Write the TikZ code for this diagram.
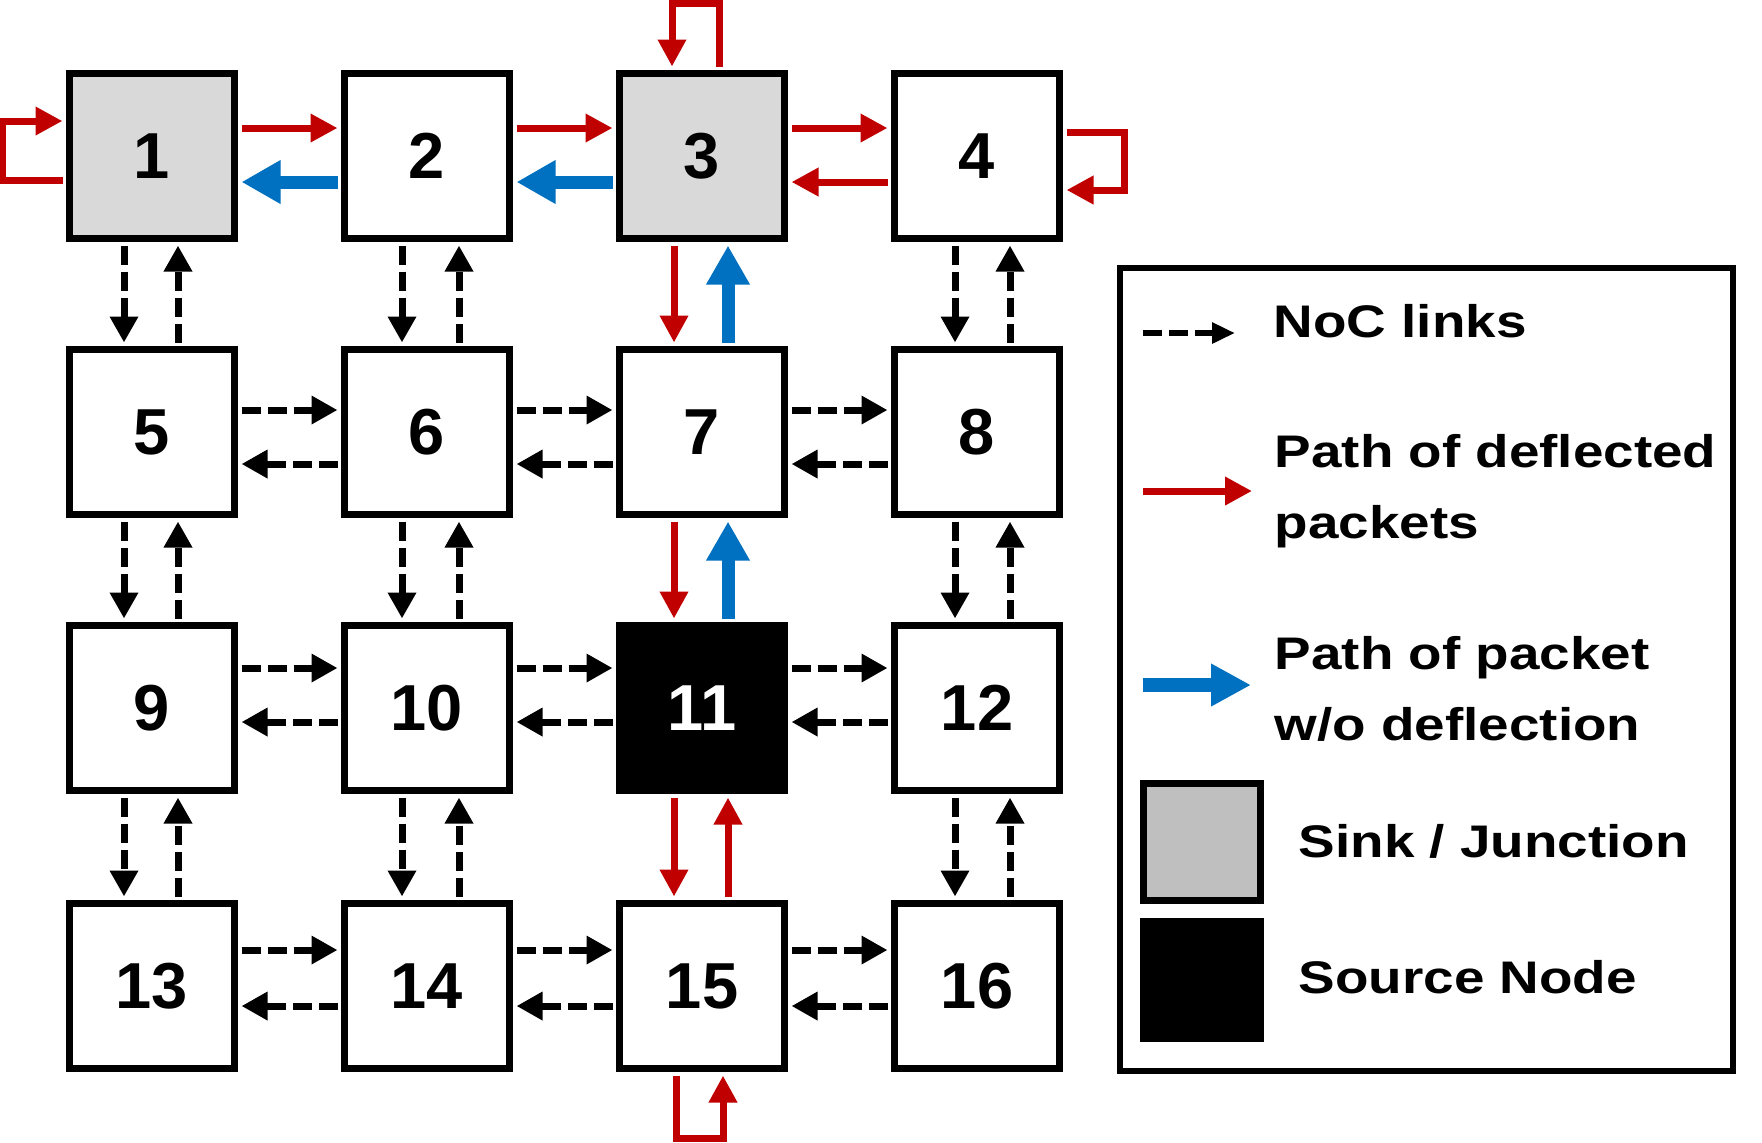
\documentclass[tikz,border=0pt]{standalone}
\usepackage{fontspec}
\setmainfont{Liberation Sans}
\newfontfamily\legfont{Liberation Sans}[FakeStretch=1.2]
\usetikzlibrary{arrows.meta, positioning}
\definecolor{deflred}{RGB}{192, 0, 0}
\definecolor{pathblue}{RGB}{0, 112, 192}
\definecolor{sinkgray}{RGB}{217, 217, 217}
\definecolor{keygray}{RGB}{191, 191, 191}
\tikzset{
  router/.style={
    draw, line width=0.07cm, minimum size=1.65cm, inner sep=0pt,
    font=\fontsize{18.5pt}{20pt}\selectfont\bfseries
  },
  sink/.style={router, fill=sinkgray},
  source/.style={router, fill=black, text=white},
  link/.style={-{Triangle[length=0.26cm, width=0.27cm]}, line width=0.07cm,
    dash pattern=on 0.19cm off 0.07cm, shorten >=0.035cm, shorten <=0.035cm},
  deflected/.style={-{Triangle[length=0.27cm, width=0.27cm]}, line width=0.07cm,
    deflred, shorten >=0.035cm, shorten <=0.035cm},
  direct/.style={-{Triangle[length=0.39cm, width=0.41cm]}, line width=0.13cm,
    pathblue, shorten >=0.035cm, shorten <=0.035cm},
}

\begin{document}
\begin{tikzpicture}[
    legtext/.style={
        anchor=base west,
        align=left,
        inner sep=0pt,
        font=\legfont\bfseries\fontsize{13pt}{20.2pt}\selectfont
    },
    keybox/.style={
        draw,
        line width=0.07cm,
        minimum size=1.17cm,
        inner sep=0pt
    }
]

\useasboundingbox (0,0) rectangle (17.62,-11.42);

\node[sink] (r1) at (1.52,-1.56) {1};
\node[router] (r2) at (4.27,-1.56) {2};
\node[sink] (r3) at (7.02,-1.56) {3};
\node[router] (r4) at (9.77,-1.56) {4};

\node[router] (r5) at (1.52,-4.32) {5};
\node[router] (r6) at (4.27,-4.32) {6};
\node[router] (r7) at (7.02,-4.32) {7};
\node[router] (r8) at (9.77,-4.32) {8};

\node[router] (r9) at (1.52,-7.08) {9};
\node[router] (r10) at (4.27,-7.08) {10};
\node[source] (r11) at (7.02,-7.08) {11};
\node[router] (r12) at (9.77,-7.08) {12};

\node[router] (r13) at (1.52,-9.86) {13};
\node[router] (r14) at (4.27,-9.86) {14};
\node[router] (r15) at (7.02,-9.86) {15};
\node[router] (r16) at (9.77,-9.86) {16};

% top row
\draw[deflected] ([yshift=0.28cm]r1.east) -- ([yshift=0.28cm]r2.west);
\draw[direct] ([yshift=-0.26cm]r2.west) -- ([yshift=-0.26cm]r1.east);
\draw[deflected] ([yshift=0.28cm]r2.east) -- ([yshift=0.28cm]r3.west);
\draw[direct] ([yshift=-0.26cm]r3.west) -- ([yshift=-0.26cm]r2.east);
\draw[deflected] ([yshift=0.28cm]r3.east) -- ([yshift=0.28cm]r4.west);
\draw[deflected] ([yshift=-0.26cm]r4.west) -- ([yshift=-0.26cm]r3.east);

% self loops
\draw[deflected] ([yshift=-0.24cm]r1.west) -- ++(-0.64,0) |- ([yshift=0.35cm]r1.west);
\draw[deflected] ([xshift=0.17cm]r3.north) -- ++(0,0.67) -| ([xshift=-0.30cm]r3.north);
\draw[deflected] ([yshift=0.24cm]r4.east) -- ++(0.615,0) |- ([yshift=-0.34cm]r4.east);
\draw[deflected] ([xshift=-0.26cm]r15.south) -- ++(0,-0.665) -| ([xshift=0.21cm]r15.south);

% middle column
\draw[deflected] ([xshift=-0.28cm]r3.south) -- ([xshift=-0.28cm]r7.north);
\draw[direct] ([xshift=0.26cm]r7.north) -- ([xshift=0.26cm]r3.south);
\draw[deflected] ([xshift=-0.28cm]r7.south) -- ([xshift=-0.28cm]r11.north);
\draw[direct] ([xshift=0.26cm]r11.north) -- ([xshift=0.26cm]r7.south);
\draw[deflected] ([xshift=-0.28cm]r11.south) -- ([xshift=-0.28cm]r15.north);
\draw[deflected] ([xshift=0.26cm]r15.north) -- ([xshift=0.26cm]r11.south);

% vertical links
\draw[link] ([xshift=-0.28cm]r1.south) -- ([xshift=-0.28cm]r5.north);
\draw[link] ([xshift=0.26cm]r5.north) -- ([xshift=0.26cm]r1.south);
\draw[link] ([xshift=-0.28cm]r5.south) -- ([xshift=-0.28cm]r9.north);
\draw[link] ([xshift=0.26cm]r9.north) -- ([xshift=0.26cm]r5.south);
\draw[link] ([xshift=-0.28cm]r9.south) -- ([xshift=-0.28cm]r13.north);
\draw[link] ([xshift=0.26cm]r13.north) -- ([xshift=0.26cm]r9.south);

\draw[link] ([xshift=-0.25cm]r2.south) -- ([xshift=-0.25cm]r6.north);
\draw[link] ([xshift=0.32cm]r6.north) -- ([xshift=0.32cm]r2.south);
\draw[link] ([xshift=-0.25cm]r6.south) -- ([xshift=-0.25cm]r10.north);
\draw[link] ([xshift=0.32cm]r10.north) -- ([xshift=0.32cm]r6.south);
\draw[link] ([xshift=-0.25cm]r10.south) -- ([xshift=-0.25cm]r14.north);
\draw[link] ([xshift=0.32cm]r14.north) -- ([xshift=0.32cm]r10.south);

\draw[link] ([xshift=-0.22cm]r4.south) -- ([xshift=-0.22cm]r8.north);
\draw[link] ([xshift=0.33cm]r8.north) -- ([xshift=0.33cm]r4.south);
\draw[link] ([xshift=-0.22cm]r8.south) -- ([xshift=-0.22cm]r12.north);
\draw[link] ([xshift=0.33cm]r12.north) -- ([xshift=0.33cm]r8.south);
\draw[link] ([xshift=-0.22cm]r12.south) -- ([xshift=-0.22cm]r16.north);
\draw[link] ([xshift=0.33cm]r16.north) -- ([xshift=0.33cm]r12.south);

% horizontal links
\draw[link] ([yshift=0.22cm]r5.east) -- ([yshift=0.22cm]r6.west);
\draw[link] ([yshift=-0.32cm]r6.west) -- ([yshift=-0.32cm]r5.east);
\draw[link] ([yshift=0.22cm]r6.east) -- ([yshift=0.22cm]r7.west);
\draw[link] ([yshift=-0.32cm]r7.west) -- ([yshift=-0.32cm]r6.east);
\draw[link] ([yshift=0.22cm]r7.east) -- ([yshift=0.22cm]r8.west);
\draw[link] ([yshift=-0.32cm]r8.west) -- ([yshift=-0.32cm]r7.east);

\draw[link] ([yshift=0.40cm]r9.east) -- ([yshift=0.40cm]r10.west);
\draw[link] ([yshift=-0.14cm]r10.west) -- ([yshift=-0.14cm]r9.east);
\draw[link] ([yshift=0.40cm]r10.east) -- ([yshift=0.40cm]r11.west);
\draw[link] ([yshift=-0.14cm]r11.west) -- ([yshift=-0.14cm]r10.east);
\draw[link] ([yshift=0.40cm]r11.east) -- ([yshift=0.40cm]r12.west);
\draw[link] ([yshift=-0.14cm]r12.west) -- ([yshift=-0.14cm]r11.east);

\draw[link] ([yshift=0.36cm]r13.east) -- ([yshift=0.36cm]r14.west);
\draw[link] ([yshift=-0.20cm]r14.west) -- ([yshift=-0.20cm]r13.east);
\draw[link] ([yshift=0.36cm]r14.east) -- ([yshift=0.36cm]r15.west);
\draw[link] ([yshift=-0.20cm]r15.west) -- ([yshift=-0.20cm]r14.east);
\draw[link] ([yshift=0.36cm]r15.east) -- ([yshift=0.36cm]r16.west);
\draw[link] ([yshift=-0.20cm]r16.west) -- ([yshift=-0.20cm]r15.east);

% legend
\node[draw, line width=0.06cm, minimum width=6.13cm, minimum height=8.03cm, inner sep=0pt]
  (legend) at (14.265,-6.695) {};

\coordinate (keylinkA) at (11.43,-3.33);
\coordinate (keylinkB) at (12.35,-3.33);
\coordinate (keydeflA) at (11.43,-4.91);
\coordinate (keydeflB) at (12.52,-4.91);
\coordinate (keydirA) at (11.43,-6.85);
\coordinate (keydirB) at (12.51,-6.85);

\draw[link, -{Triangle[length=0.23cm, width=0.2cm]}, line width=0.06cm, shorten >=0pt, shorten <=0pt]
  (keylinkA) -- (keylinkB);
\draw[deflected, shorten >=0pt, shorten <=0pt] (keydeflA) -- (keydeflB);
\draw[direct, -{Triangle[length=0.40cm, width=0.40cm]}, line width=0.14cm, shorten >=0pt, shorten <=0pt]
  (keydirA) -- (keydirB);

\node[keybox, fill=keygray] (keysink) at (12.02,-8.415) {};
\node[keybox, fill=black] (keysource) at (12.02,-9.80) {};

\node[legtext] (txtlink) at (12.73,-3.37) {NoC links};
\node[legtext] (txtdefl) at (12.74,-5.38) {Path of deflected\\packets};
\node[legtext] (txtdir) at (12.74,-7.40) {Path of packet\\w/o deflection};
\node[legtext] (txtsink) at (12.98,-8.57) {Sink / Junction};
\node[legtext] (txtsource) at (12.98,-9.93) {Source Node};

\end{tikzpicture}
\end{document}
